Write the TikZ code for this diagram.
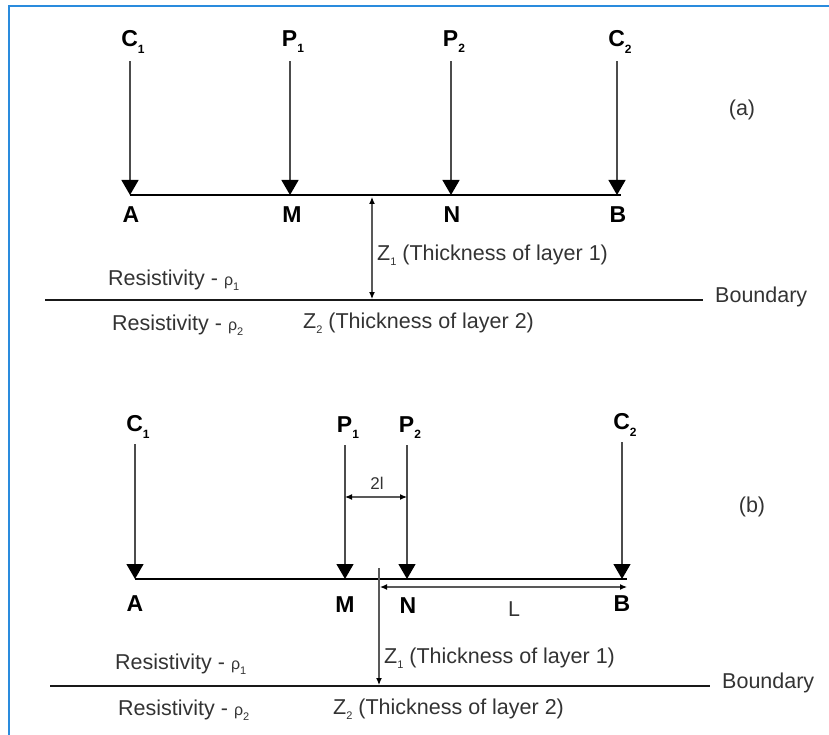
\documentclass[tikz,border=0pt]{standalone}
\usepackage{fontspec}
\setmainfont{Liberation Sans}
\usetikzlibrary{arrows.meta}
\definecolor{framecol}{HTML}{2A8BDD}
\definecolor{txtgray}{HTML}{333333}
\newcommand\lsub[1]{\raisebox{-0.5ex}{\fontsize{12}{12}\selectfont #1}}
\newcommand\tsub[1]{\raisebox{-0.45ex}{\fontsize{11}{11}\selectfont #1}}
\newcommand\myrho{{\fontsize{16}{16}\selectfont ρ}}
\begin{document}
\begin{tikzpicture}[x=1pt,y=-1pt,
  probe/.style={draw=black!70, line width=1.3pt, -{Triangle[width=17pt,length=15pt,color=black]}},
  ground/.style={draw=black, line width=2.8pt},
  bnd/.style={draw=black!90, line width=2.6pt},
  dimarr/.style={draw=black!65, line width=1.2pt, {Latex[length=7pt,width=6pt,color=black]}-{Latex[length=7pt,width=6pt,color=black]}},
  dimend/.style={draw=black!65, line width=1.2pt, -{Latex[length=7pt,width=6pt,color=black]}},
  elab/.style={font=\fontsize{23}{26}\selectfont\bfseries, inner sep=0pt, text=black},
  txt/.style={font=\fontsize{21.5}{24}\selectfont, inner sep=0pt, text=txtgray}
]
\useasboundingbox (0,0) rectangle (829,735);
\coordinate (fb) at (9,735);
\coordinate (fc) at (9,6);
\coordinate (fr) at (829,6);
\draw[framecol, line width=1.6pt] (fb) -- (fc) -- (fr);

% ---------------- panel (a)
\coordinate (Aa) at (130,195);
\coordinate (Ma) at (290,195);
\coordinate (Na) at (451,195);
\coordinate (Ba) at (617,195);
\coordinate (Ea) at (621,195);
\node[elab] (C1a) at (133,42) {C\lsub{1}};
\node[elab] (P1a) at (293,42) {P\lsub{1}};
\node[elab] (P2a) at (454,42) {P\lsub{2}};
\node[elab] (C2a) at (620,42) {C\lsub{2}};
\draw[probe] ([yshift=-8pt]C1a.south -| Aa) -- (Aa);
\draw[probe] ([yshift=-8pt]P1a.south -| Ma) -- (Ma);
\draw[probe] ([yshift=-8pt]P2a.south -| Na) -- (Na);
\draw[probe] ([yshift=-8pt]C2a.south -| Ba) -- (Ba);
\draw[ground] (Aa) -- (Ea);
\node[elab] (lAa) at (131,215) {A};
\node[elab] (lMa) at (292,215) {M};
\node[elab] (lNa) at (452,215) {N};
\node[elab] (lBa) at (618,215) {B};
\coordinate (za1) at (372,197);
\coordinate (za2) at (372,299);
\draw[dimarr] (za1) -- (za2);
\node[txt, anchor=west] (z1a) at (377,255) {Z\tsub{1} (Thickness of layer 1)};
\coordinate (bLa) at (45,300);
\coordinate (bRa) at (703,300);
\draw[bnd] (bLa) -- (bRa);
\node[txt, anchor=west] (bda) at (715,297) {Boundary};
\node[txt, anchor=west] (r1a) at (108,280) {Resistivity - \myrho\tsub{1}};
\node[txt, anchor=west] (r2a) at (112,325) {Resistivity - \myrho\tsub{2}};
\node[txt, anchor=west] (z2a) at (303,323) {Z\tsub{2} (Thickness of layer 2)};
\node[txt] (pa) at (742,110) {(a)};

% ---------------- panel (b)
\coordinate (Ab) at (135,579);
\coordinate (Mb) at (345,579);
\coordinate (Nb) at (407,579);
\coordinate (Bb) at (622,579);
\coordinate (Eb) at (627,579);
\node[elab] (C1b) at (138,427) {C\lsub{1}};
\node[elab] (P1b) at (348,428) {P\lsub{1}};
\node[elab] (P2b) at (410,428) {P\lsub{2}};
\node[elab] (C2b) at (625,425) {C\lsub{2}};
\draw[probe] ([yshift=-6pt]C1b.south -| Ab) -- (Ab);
\draw[probe] ([yshift=-6pt]P1b.south -| Mb) -- (Mb);
\draw[probe] ([yshift=-6pt]P2b.south -| Nb) -- (Nb);
\draw[probe] ([yshift=-6pt]C2b.south -| Bb) -- (Bb);
\draw[ground] (Ab) -- (Eb);
\coordinate (dl1) at (345,497);
\coordinate (dl2) at (407,497);
\draw[dimarr] (dl1) -- (dl2);
\node[txt, font=\fontsize{17}{19}\selectfont] (twol) at (377,483) {2l};
\node[elab] (lAb) at (135,604) {A};
\node[elab] (lMb) at (345,605) {M};
\node[elab] (lNb) at (408,606) {N};
\node[elab] (lBb) at (622,604) {B};
\node[txt] (lL) at (514,609) {L};
\coordinate (Ll) at (380,587);
\coordinate (Lr) at (627,587);
\draw[dimarr] (Ll) -- (Lr);
\coordinate (zb0) at (379,568);
\coordinate (zb2) at (379,685);
\draw[dimend] (zb0) -- (zb2);
\node[txt, anchor=west] (z1b) at (384,658) {Z\tsub{1} (Thickness of layer 1)};
\coordinate (bLb) at (50,686);
\coordinate (bRb) at (710,686);
\draw[bnd] (bLb) -- (bRb);
\node[txt, anchor=west] (bdb) at (722,683) {Boundary};
\node[txt, anchor=west] (r1b) at (115,664) {Resistivity - \myrho\tsub{1}};
\node[txt, anchor=west] (r2b) at (118,710) {Resistivity - \myrho\tsub{2}};
\node[txt, anchor=west] (z2b) at (333,709) {Z\tsub{2} (Thickness of layer 2)};
\node[txt] (pb) at (752,507) {(b)};
\end{tikzpicture}
\end{document}
